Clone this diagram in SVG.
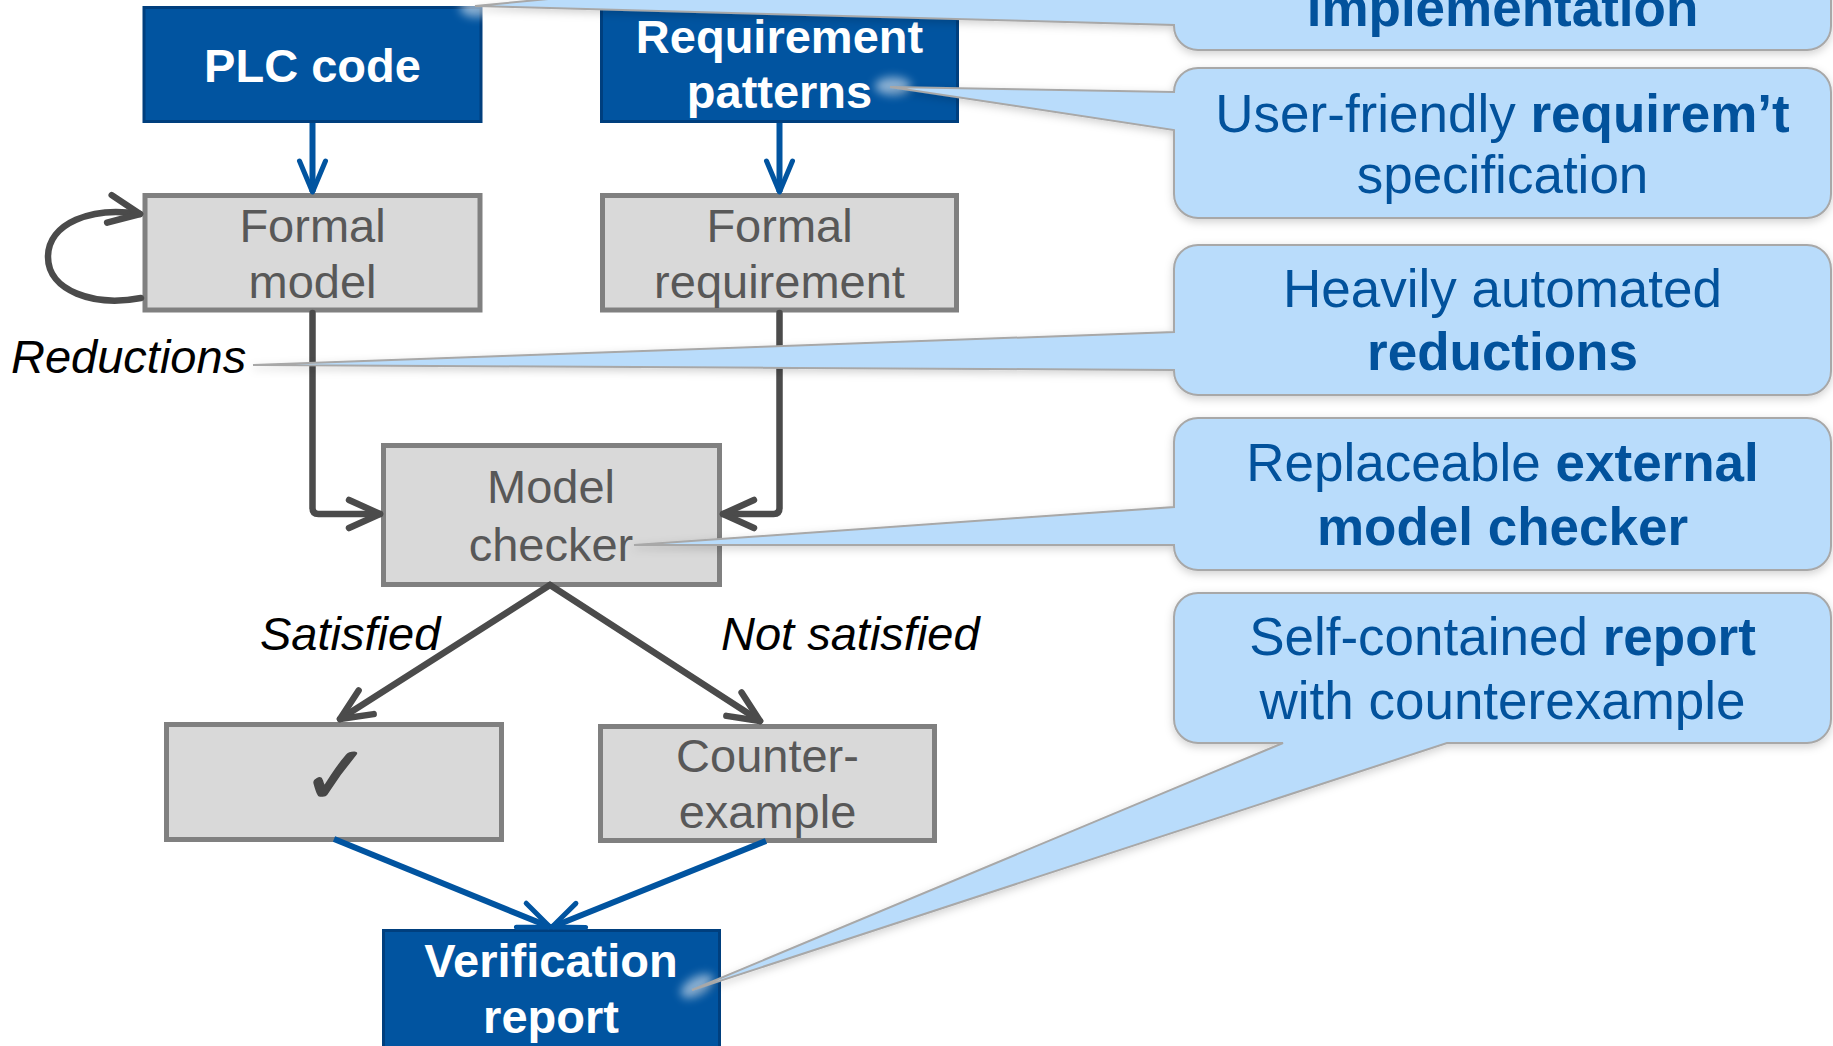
<svg xmlns="http://www.w3.org/2000/svg" width="1833" height="1046" viewBox="0 0 1833 1046">
  <style>
    .blue rect { fill: #0154a0; stroke: #003f7e; stroke-width: 3; }
    .blue text { fill: #ffffff; font-family: "Liberation Sans", Arial, sans-serif; font-weight: bold; font-size: 47px; text-anchor: middle; }
    .grey rect { fill: #d9d9d9; stroke: #808080; stroke-width: 5; }
    .grey text { fill: #585858; font-family: "Liberation Sans", Arial, sans-serif; font-size: 47px; text-anchor: middle; }
    .grey text.tick { fill: #474747; stroke: #474747; stroke-width: 1.5; font-family: "DejaVu Serif", "DejaVu Sans", serif; font-size: 82px; }
    .label { fill: #000000; font-family: "Liberation Sans", Arial, sans-serif; font-style: italic; font-size: 47px; }
    .edge-g { fill: none; stroke: #4b4b4b; stroke-width: 6.5; stroke-linecap: round; stroke-linejoin: round; }
    .edge-b { fill: none; stroke: #0154a0; stroke-width: 6; stroke-linecap: butt; }
    .callout path { fill: #b9dcfb; stroke: #a8a8a8; stroke-width: 2; }
    .callout text { fill: #02529c; font-family: "Liberation Sans", Arial, sans-serif; font-size: 53px; text-anchor: middle; }
    .b { font-weight: bold; }
    .glow { fill: #ffffff; opacity: 0.55; }
  </style>
  <defs>
    <marker id="headG" markerUnits="userSpaceOnUse" viewBox="-40 -20 46 40" refX="0" refY="0" markerWidth="46" markerHeight="40" orient="auto">
      <path d="M-31,-14 L0,0 L-31,14" fill="none" stroke="#4b4b4b" stroke-width="6.5" stroke-linecap="round" stroke-linejoin="round"/>
    </marker>
    <marker id="headB" markerUnits="userSpaceOnUse" viewBox="-40 -20 46 40" refX="0" refY="0" markerWidth="46" markerHeight="40" orient="auto">
      <path d="M-31,-13 L0,0 L-31,13" fill="none" stroke="#0154a0" stroke-width="5" stroke-linecap="round" stroke-linejoin="round"/>
    </marker>
    <filter id="shadow" x="-5%" y="-20%" width="110%" height="140%">
      <feDropShadow dx="0" dy="3" stdDeviation="4" flood-color="#000000" flood-opacity="0.18"/>
    </filter>
    <filter id="soft" x="-100%" y="-100%" width="300%" height="300%">
      <feGaussianBlur stdDeviation="5"/>
    </filter>
  </defs>

  <rect x="0" y="0" width="1833" height="1046" fill="#ffffff"/>

  <!-- process boxes -->
  <g id="plc-code" class="blue">
    <rect x="144" y="7.5" width="337" height="114"/>
    <text x="312.5" y="82">PLC code</text>
  </g>
  <g id="requirement-patterns" class="blue">
    <rect x="601.5" y="7.5" width="356" height="114"/>
    <text x="779.5" y="53">Requirement</text>
    <text x="779.5" y="108">patterns</text>
  </g>
  <g id="formal-model" class="grey">
    <rect x="145" y="195.5" width="335" height="114.5"/>
    <text x="312.5" y="242">Formal</text>
    <text x="312.5" y="298">model</text>
  </g>
  <g id="formal-requirement" class="grey">
    <rect x="602.5" y="195.5" width="354" height="114.5"/>
    <text x="779.5" y="242">Formal</text>
    <text x="779.5" y="298">requirement</text>
  </g>
  <g id="model-checker" class="grey">
    <rect x="383.5" y="445.5" width="336" height="139"/>
    <text x="551" y="503">Model</text>
    <text x="551" y="561">checker</text>
  </g>
  <g id="satisfied-result" class="grey">
    <rect x="166.5" y="724.5" width="335" height="115"/>
    <text class="tick" x="336" y="804">✓</text>
  </g>
  <g id="counterexample" class="grey">
    <rect x="600.5" y="726.5" width="334" height="114"/>
    <text x="767.5" y="772">Counter-</text>
    <text x="767.5" y="828">example</text>
  </g>
  <g id="verification-report" class="blue">
    <rect x="383.5" y="930.5" width="336" height="130"/>
    <text x="551" y="977">Verification</text>
    <text x="551" y="1033">report</text>
  </g>

  <!-- edge labels -->
  <g id="labels">
    <text class="label" x="11" y="373">Reductions</text>
    <text class="label" x="260" y="650">Satisfied</text>
    <text class="label" x="721" y="650">Not satisfied</text>
  </g>

  <!-- connectors -->
  <g id="connectors">
    <path class="edge-b" d="M312.5,123 V192" marker-end="url(#headB)"/>
    <path class="edge-b" d="M779.5,123 V192" marker-end="url(#headB)"/>
    <path class="edge-g" d="M312.5,313 V508 Q312.5,514 318.5,514 H380" marker-end="url(#headG)"/>
    <path class="edge-g" d="M779.5,313 V508 Q779.5,514 773.5,514 H723" marker-end="url(#headG)"/>
    <path class="edge-g" d="M141,298 C94,307 48,291 48,257 C48,223 92,206 140,214" marker-end="url(#headG)"/>
    <path class="edge-g" d="M550,585 L340,719" marker-end="url(#headG)"/>
    <path class="edge-g" d="M550,585 L760,721" marker-end="url(#headG)"/>
    <path class="edge-b" d="M334,839 L550,927" marker-end="url(#headB)"/>
    <path class="edge-b" d="M766,841 L552,927" marker-end="url(#headB)"/>
  </g>

  <!-- annotation callouts -->
  <g id="callout-implementation" class="callout">
    <ellipse class="glow" cx="476" cy="8" rx="16" ry="9" filter="url(#soft)"/>
    <path filter="url(#shadow)" d="M1198,-120 H1807 A24,24 0 0 1 1831,-96 V26 A24,24 0 0 1 1807,50 H1198 A24,24 0 0 1 1174,26 V25 L475,6 L1174,-60 V-96 A24,24 0 0 1 1198,-120 Z"/>
    <text x="1502.5" y="26" class="b">implementation</text>
  </g>
  <g id="callout-requirement" class="callout">
    <ellipse class="glow" cx="893" cy="86" rx="18" ry="9" filter="url(#soft)"/>
    <path filter="url(#shadow)" d="M1198,68 H1807 A24,24 0 0 1 1831,92 V194 A24,24 0 0 1 1807,218 H1198 A24,24 0 0 1 1174,194 V130 L890,87 L1174,92 A24,24 0 0 1 1198,68 Z"/>
    <text x="1502.5" y="132">User-friendly <tspan class="b">requirem’t</tspan></text>
    <text x="1502.5" y="193">specification</text>
  </g>
  <g id="callout-reductions" class="callout">
    <path filter="url(#shadow)" d="M1198,245 H1807 A24,24 0 0 1 1831,269 V371 A24,24 0 0 1 1807,395 H1198 A24,24 0 0 1 1174,371 V370 L253,365 L1174,332 V269 A24,24 0 0 1 1198,245 Z"/>
    <text x="1502.5" y="307">Heavily automated</text>
    <text x="1502.5" y="370" class="b">reductions</text>
  </g>
  <g id="callout-model-checker" class="callout">
    <path filter="url(#shadow)" d="M1198,418 H1807 A24,24 0 0 1 1831,442 V546 A24,24 0 0 1 1807,570 H1198 A24,24 0 0 1 1174,546 V545 L634,545 L1174,507 V442 A24,24 0 0 1 1198,418 Z"/>
    <text x="1502.5" y="481">Replaceable <tspan class="b">external</tspan></text>
    <text x="1502.5" y="545" class="b">model checker</text>
  </g>
  <g id="callout-report" class="callout">
    <ellipse class="glow" cx="697" cy="986" rx="18" ry="9" transform="rotate(-30 697 986)" filter="url(#soft)"/>
    <path filter="url(#shadow)" d="M1198,593 H1807 A24,24 0 0 1 1831,617 V719 A24,24 0 0 1 1807,743 H1447 L692,990 L1283,743 H1198 A24,24 0 0 1 1174,719 V617 A24,24 0 0 1 1198,593 Z"/>
    <text x="1502.5" y="655">Self-contained <tspan class="b">report</tspan></text>
    <text x="1502.5" y="719">with counterexample</text>
  </g>
</svg>
